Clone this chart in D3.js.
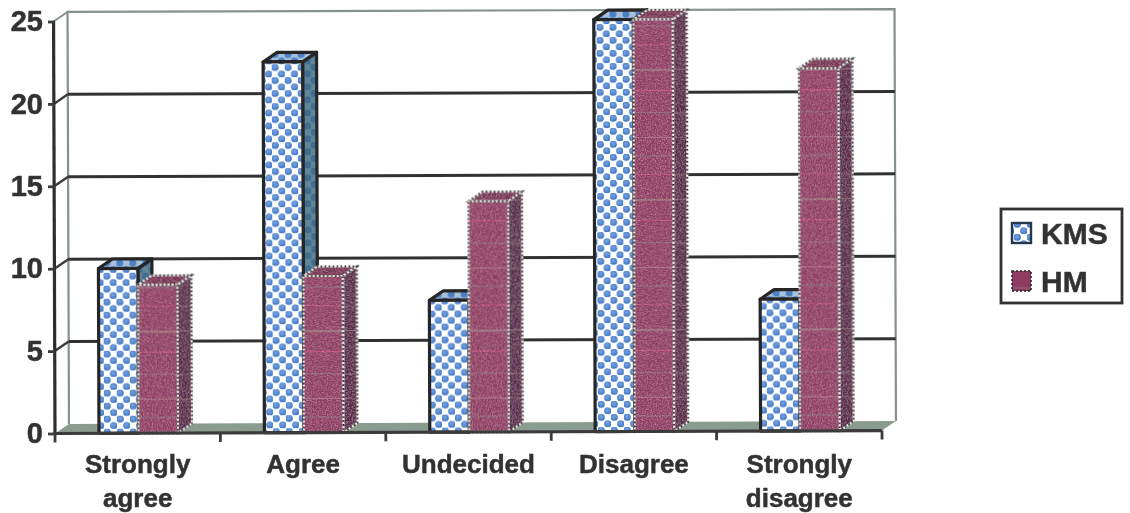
<!DOCTYPE html>
<html>
<head>
<meta charset="utf-8">
<script src="https://cdn.jsdelivr.net/npm/d3@7"></script>
<style>
html, body { margin: 0; padding: 0; background: #fff; }
text { font-family: "Liberation Sans", Arial, sans-serif; font-weight: bold; fill: #333; stroke: #333; stroke-width: 0.5px; }
</style>
</head>
<body>
<div id="viz"></div>
<script>
const categories = ["Strongly agree", "Agree", "Undecided", "Disagree", "Strongly disagree"];
const seriesNames = ["KMS", "HM"];
const kmsValues = [10, 22.5, 8, 25, 8];
const hmValues = [9, 9.5, 14, 25, 22];
const yTicks = [0, 5, 10, 15, 20, 25];

const width = 1130;
const height = 513;
const depth = {x: 14, y: -9.5};

const svg = d3.select("#viz")
    .append("svg")
    .attr("width", width)
    .attr("height", height)
    .style("display", "block");

const defs = svg.append("defs");

// soft blur so the edges look scanned like the original
defs.append("filter").attr("id", "scan")
    .append("feGaussianBlur").attr("stdDeviation", 0.45);

// light speckle for the maroon faces
const grain = defs.append("filter").attr("id", "grain");
grain.append("feTurbulence")
    .attr("type", "fractalNoise").attr("baseFrequency", 0.8)
    .attr("numOctaves", 2).attr("seed", 4).attr("result", "n");
grain.append("feColorMatrix").attr("in", "n")
    .attr("values", "0 0 0 0 1  0 0 0 0 0.7  0 0 0 0 0.8  0.7 0 0 0 -0.3")
    .attr("result", "spots");
grain.append("feComposite").attr("in", "spots").attr("in2", "SourceAlpha")
    .attr("operator", "in").attr("result", "clipped");
const grainMerge = grain.append("feMerge");
grainMerge.append("feMergeNode").attr("in", "SourceGraphic");
grainMerge.append("feMergeNode").attr("in", "clipped");

const ball = defs.append("radialGradient").attr("id", "ball")
    .attr("cx", "45%").attr("cy", "40%").attr("r", "60%");
ball.append("stop").attr("offset", "0%").attr("stop-color", "#7ba6e2");
ball.append("stop").attr("offset", "100%").attr("stop-color", "#3c72c2");

const dots = (id, bg, dot) => {
    const p = defs.append("pattern").attr("id", id)
        .attr("patternUnits", "userSpaceOnUse")
        .attr("width", 13).attr("height", 13);
    p.append("rect").attr("width", 13).attr("height", 13).attr("fill", bg);
    [[3.25, 3.25], [9.75, 9.75]].forEach(c => {
        p.append("circle").attr("cx", c[0]).attr("cy", c[1]).attr("r", 3.6).attr("fill", dot);
    });
};
dots("kmsFront", "#fff", "url(#ball)");
dots("kmsSide", "#5f8596", "#3f6d90");
dots("kmsTop", "#a9c0da", "#4c7fc4");

// maroon with uneven scan streaks
const streak = (id, base, lines) => {
    const p = defs.append("pattern").attr("id", id)
        .attr("patternUnits", "userSpaceOnUse")
        .attr("width", 8).attr("height", 130);
    p.append("rect").attr("width", 8).attr("height", 130).attr("fill", base);
    lines.forEach(l => {
        p.append("rect").attr("y", l[0]).attr("width", 8).attr("height", l[1]).attr("fill", l[2]);
    });
};
streak("hmFront", "#8f3a62", [[9, 1, "#a86a80"], [27, 2, "#8d5570"], [46, 1, "#b5486f"], [71, 2, "#9a6a78"], [92, 1, "#c04a78"], [114, 1, "#8f6478"]]);
streak("hmSide", "#56284a", [[9, 1, "#7a5a68"], [46, 2, "#6c4258"], [71, 1, "#80606c"], [114, 2, "#6e4c60"]]);
streak("hmTop", "#762e50", [[5, 1, "#8c3f62"]]);

const x = d3.scaleBand()
    .domain(categories)
    .range([55, 882]);

const xSeries = d3.scaleBand()
    .domain(seriesNames)
    .range([44, 123]);

const y = d3.scaleLinear()
    .domain([0, 25])
    .range([433.5, 21.5]);

const series = [
    {name: "KMS", values: kmsValues},
    {name: "HM", values: hmValues}
];

const root = svg.append("g").attr("filter", "url(#scan)");

// the scan is a little tilted, the plot follows that but the labels do not
const plot = root.append("g").attr("transform", "rotate(-0.2 55 433.5)");

const x0 = x.range()[0], x1 = x.range()[1];

// back wall
plot.append("path")
    .attr("d", `M${x0 + depth.x},${y(0) + depth.y}V${y(25) + depth.y}H${x1 + depth.x}V${y(0) + depth.y}`)
    .attr("fill", "#fff")
    .attr("stroke", "#84918f")
    .attr("stroke-width", 2.2);

plot.append("line")
    .attr("x1", x0).attr("y1", y(25))
    .attr("x2", x0 + depth.x).attr("y2", y(25) + depth.y)
    .attr("stroke", "#84918f").attr("stroke-width", 2);

// grid lines
plot.selectAll(".grid").data(yTicks.slice(1, 5))
    .enter().append("line")
    .attr("x1", x0 + depth.x).attr("x2", x1 + depth.x)
    .attr("y1", d => y(d) + depth.y).attr("y2", d => y(d) + depth.y)
    .attr("stroke", "#333").attr("stroke-width", 3);

plot.selectAll(".gridSide").data(yTicks.slice(1, 5))
    .enter().append("line")
    .attr("x1", x0).attr("x2", x0 + depth.x)
    .attr("y1", d => y(d)).attr("y2", d => y(d) + depth.y)
    .attr("stroke", "#3a3a3a").attr("stroke-width", 2.4);

// floor
plot.append("path")
    .attr("d", `M${x0},${y(0)}L${x0 + depth.x},${y(0) + depth.y}H${x1 + depth.x}L${x1},${y(0)}Z`)
    .attr("fill", "#8a9c8e");

// bars, back to front
const drawBar = (cat, s, v) => {
    const left = x(cat) + xSeries(s.name);
    const w = xSeries.bandwidth();
    const top = y(v), base = y(0);
    const right = left + w;
    const g = plot.append("g");
    const key = s.name.toLowerCase();
    if (s.name === "HM") g.attr("filter", "url(#grain)");
    const faces = [
        {f: "Side", d: `M${right},${top}L${right + depth.x},${top + depth.y}V${base + depth.y}L${right},${base}Z`},
        {f: "Top", d: `M${left},${top}L${left + depth.x},${top + depth.y}H${right + depth.x}L${right},${top}Z`},
        {f: "Front", d: `M${left},${base}V${top}H${right}V${base}Z`}
    ];
    faces.forEach(face => {
        const path = g.append("path")
            .attr("d", face.d)
            .attr("fill", `url(#${key}${face.f})`)
            .attr("stroke-linejoin", "round");
        if (s.name === "KMS") {
            path.attr("stroke", "#262626").attr("stroke-width", 3.2);
        } else {
            path.attr("stroke", "#f4f4f4").attr("stroke-width", 2);
            g.append("path").attr("d", face.d)
                .attr("fill", "none")
                .attr("stroke", "#262626")
                .attr("stroke-width", 2)
                .attr("stroke-dasharray", "2 2");
        }
    });
};

categories.forEach((cat, i) => {
    series.forEach(s => drawBar(cat, s, s.values[i]));
});

// axis lines
plot.append("line")
    .attr("x1", x0).attr("x2", x0)
    .attr("y1", y(25)).attr("y2", y(0))
    .attr("stroke", "#2e2e2e").attr("stroke-width", 3.2);
plot.append("line")
    .attr("x1", x0).attr("x2", x1)
    .attr("y1", y(0)).attr("y2", y(0))
    .attr("stroke", "#3a3a3a").attr("stroke-width", 3.2);

// x tick marks sit between the categories
plot.selectAll(".xtick").data([...categories.map(c => x(c)), x1])
    .enter().append("line")
    .attr("x1", d => d).attr("x2", d => d)
    .attr("y1", y(0)).attr("y2", y(0) + 9)
    .attr("stroke", "#3a3a3a").attr("stroke-width", 2.8);

// y axis
const yAxis = root.append("g")
    .attr("transform", `translate(${x0}, 0)`)
    .call(d3.axisLeft(y).tickValues(yTicks).tickSize(7).tickPadding(5));
yAxis.select(".domain").remove();
yAxis.selectAll("line").attr("stroke", "#3a3a3a").attr("stroke-width", 2.8);
yAxis.selectAll("text")
    .style("font-family", '"Liberation Sans", Arial, sans-serif')
    .style("font-size", "29px")
    .style("font-weight", "bold")
    .attr("fill", "#333");

// x labels, wrapped on the space
const xAxis = root.append("g")
    .attr("transform", `translate(0, ${y(0)})`)
    .call(d3.axisBottom(x).tickSize(0).tickFormat(""));
xAxis.select(".domain").remove();
xAxis.selectAll(".tick").each(function(d) {
    const label = d3.select(this).select("text")
        .attr("y", 0)
        .attr("dy", null)
        .style("font-family", '"Liberation Sans", Arial, sans-serif')
        .style("font-size", "26px")
        .style("font-weight", "bold")
        .attr("fill", "#333");
    d.split(" ").forEach((word, i) => {
        label.append("tspan")
            .attr("x", 0)
            .attr("y", 39 + i * 34)
            .text(word);
    });
});

// legend
const legend = root.append("g");
legend.append("rect")
    .attr("x", 1001).attr("y", 209)
    .attr("width", 121).attr("height", 94)
    .attr("fill", "#fff")
    .attr("stroke", "#333")
    .attr("stroke-width", 2.8);

const legendY = d3.scalePoint().domain(seriesNames).range([233, 281]);

seriesNames.forEach(name => {
    const ly = legendY(name);
    const key = name.toLowerCase();
    const box = legend.append("rect")
        .attr("x", 1012).attr("y", ly - 10)
        .attr("width", 19).attr("height", 20)
        .attr("fill", `url(#${key}Front)`);
    if (name === "KMS") {
        box.attr("stroke", "#24384e").attr("stroke-width", 2.4);
    } else {
        box.attr("stroke", "#262626").attr("stroke-width", 1.6).attr("stroke-dasharray", "2 2");
    }
    legend.append("text")
        .attr("x", 1041)
        .attr("y", ly + 11)
        .style("font-size", "30px")
        .text(name);
});
</script>
</body>
</html>
